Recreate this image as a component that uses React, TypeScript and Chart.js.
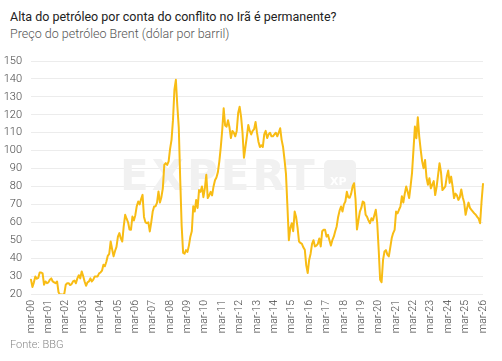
import React, { useEffect, useRef } from "react";
import { Chart, registerables } from "chart.js";

Chart.register(...registerables);

const TITLE = "Alta do petróleo por conta do conflito no Irã é permanente?";
const SUBTITLE = "Preço do petróleo Brent (dólar por barril)";
const SOURCE = "Fonte: BBG";

const MONTHS = ["jan", "fev", "mar", "abr", "mai", "jun", "jul", "ago", "set", "out", "nov", "dez"];
const FIRST_YEAR = 2000;
const FIRST_MONTH = 2; // março

// Brent, mensal (mar/2000 – mar/2026)
const y2000 = [28, 23.9, 26.5, 29.8, 28.5, 29, 32, 32, 31.5, 25.2];
const y2001 = [27, 26, 26.5, 28, 28.7, 27, 26.5, 26, 27, 21, 19.6, 19.8];
const y2002 = [19.6, 20.2, 25.2, 26, 26, 25, 25.5, 27, 27.5, 26, 28.7, 30.5];
const y2003 = [28.7, 32.6, 30, 27, 24.6, 26.5, 27, 28.7, 27, 28, 29.8, 29.8];
const y2004 = [29.8, 31.5, 32, 33, 36.3, 35.5, 38, 41.3, 42.4, 49.3, 45, 41];
const y2005 = [44, 46.3, 52, 54, 51, 49.3, 57.7, 64.2, 62, 60, 56, 55.8];
const y2006 = [63.2, 61, 64, 69, 71.6, 70, 73, 75.3, 63, 60, 59.5, 60];
const y2007 = [54.9, 60, 66, 68.8, 69, 71, 77.2, 71, 74, 79, 92, 93];
const y2008 = [92, 94, 101, 106, 117, 134, 139.5, 125, 113, 84, 58, 43];
const y2009 = [42.5, 44.5, 43.5, 47, 52, 55, 69, 66, 72.5, 68, 78, 77];
const y2010 = [80, 74, 79, 86.5, 73.5, 75, 77, 75, 80, 83.5, 85, 88];
const y2011 = [94, 102, 111.5, 123.6, 114, 113.4, 117, 113, 107, 111, 110, 108];
const y2012 = [111, 121, 124.5, 119, 110, 96, 102, 108, 114.3, 111, 109, 111];
const y2013 = [112, 116, 110, 105, 102, 103, 102, 109, 111, 107, 109, 110];
const y2014 = [108, 108, 109, 110, 108, 110, 112.5, 106, 102, 95, 87, 69];
const y2015 = [50, 57, 59.5, 55, 66, 63, 57, 49.3, 48.5, 48, 46, 44.7];
const y2016 = [36, 31.7, 39, 42.5, 48, 50, 46.5, 47, 48, 51, 46.5, 55];
const y2017 = [55.8, 55.8, 52, 53, 50, 47, 50, 52, 55, 57.7, 63, 66.5];
const y2018 = [68.8, 66, 70, 71.6, 77, 74, 73.7, 76, 80, 81.8, 73, 56];
const y2019 = [61, 66, 68, 71.6, 71, 64.2, 63, 61, 59.5, 62.3, 61, 64];
const y2020 = [67, 59.5, 44.7, 28, 26.6, 39, 43.7, 44.5, 42, 41, 46, 51.2];
const y2021 = [54, 55.8, 66, 65, 67, 68.8, 74.5, 71, 76, 80, 77, 73.5];
const y2022 = [80, 87.4, 100.4, 113.4, 106.9, 118.6, 107.8, 100.4, 94, 90.2, 94.8, 85];
const y2023 = [80.9, 84.6, 79, 81, 83, 75.2, 79.8, 86.5, 93, 88, 78, 79];
const y2024 = [80, 85.5, 88.9, 82, 85.5, 80, 73.5, 76, 75, 72.5, 74, 78.3];
const y2025 = [74, 71, 64.2, 68, 71, 68, 67, 66, 65, 64.2, 63, 62];
const y2026 = [59.5, 71.6, 81.4];

const brent = [
  ...y2000, ...y2001, ...y2002, ...y2003, ...y2004, ...y2005, ...y2006,
  ...y2007, ...y2008, ...y2009, ...y2010, ...y2011, ...y2012, ...y2013,
  ...y2014, ...y2015, ...y2016, ...y2017, ...y2018, ...y2019, ...y2020,
  ...y2021, ...y2022, ...y2023, ...y2024, ...y2025, ...y2026,
];

const categories = brent.map((_, i) => {
  const m = (FIRST_MONTH + i) % 12;
  const y = FIRST_YEAR + Math.floor((FIRST_MONTH + i) / 12);
  return `${MONTHS[m]}-${String(y % 100).padStart(2, "0")}`;
});

const Y_MIN = 20;
const Y_MAX = 150;
const Y_STEP = 10;

const LINE_COLOR = "#F8BC14";
const FONT = "Roboto, 'Open Sans', sans-serif";

const watermark = {
  id: "watermark",
  beforeDatasetsDraw(chart: any) {
    const ctx = chart.ctx;
    ctx.save();
    ctx.fillStyle = "#f1f1f1";
    ctx.font = "bold 42px 'DejaVu Sans', sans-serif";
    try { (ctx as any).letterSpacing = "3px"; } catch (e) {}
    ctx.textBaseline = "alphabetic";
    ctx.textAlign = "left";
    ctx.fillText("EXPERT", 120, 190);
    try { (ctx as any).letterSpacing = "0px"; } catch (e) {}
    const x = 324, y = 160, w = 32, h = 29, r = 5;
    ctx.beginPath();
    ctx.moveTo(x + r, y);
    ctx.arcTo(x + w, y, x + w, y + h, r);
    ctx.arcTo(x + w, y + h, x, y + h, r);
    ctx.arcTo(x, y + h, x, y, r);
    ctx.arcTo(x, y, x + w, y, r);
    ctx.closePath();
    ctx.fill();
    ctx.fillStyle = "#ffffff";
    ctx.font = "bold 11px 'DejaVu Sans', sans-serif";
    ctx.fillText("XP", x + 6, y + h - 4);
    ctx.restore();
  },
};

export default function App() {
  const ref = useRef<HTMLCanvasElement | null>(null);

  useEffect(() => {
    document.body.style.margin = "0";
    if (!ref.current) return;
    const chart = new Chart(ref.current, {
      type: "line",
      data: {
        labels: categories,
        datasets: [
          {
            data: brent,
            borderColor: LINE_COLOR,
            borderWidth: 2,
            borderJoinStyle: "round",
            borderCapStyle: "round",
            pointRadius: 0,
            tension: 0,
            fill: false,
          },
        ],
      },
      options: {
        animation: false,
        responsive: false,
        maintainAspectRatio: false,
        layout: { padding: { left: 3, right: 19, top: 61, bottom: 27 } },
        plugins: {
          legend: { display: false },
          tooltip: { enabled: false },
        },
        scales: {
          x: {
            type: "category",
            offset: false,
            grid: { display: false, drawTicks: false },
            border: { display: false },
            afterFit: (s: any) => { s.height = 40; s.paddingLeft = 0; s.paddingRight = 0; },
            ticks: {
              autoSkip: false,
              maxRotation: 90,
              minRotation: 90,
              padding: 6,
              color: "#444",
              font: { family: FONT, size: 10.5, weight: 300 },
              callback: (_v: any, i: number) =>
                categories[i].startsWith("mar-") ? categories[i] : "",
            },
          },
          y: {
            min: Y_MIN,
            max: Y_MAX,
            grid: { color: "#ececec", lineWidth: 1, drawTicks: false },
            border: { display: false },
            afterFit: (s: any) => { s.width = 28; s.paddingTop = 0; s.paddingBottom = 0; },
            ticks: {
              stepSize: Y_STEP,
              padding: 9,
              color: "#444",
              font: { family: FONT, size: 11, weight: 300 },
            },
          },
        },
      },
      plugins: [watermark],
    });
    return () => chart.destroy();
  }, []);

  return (
    <div style={{ position: "relative", width: 502, height: 361, background: "#fff", fontFamily: FONT }}>
      <div style={{ position: "absolute", left: 10, top: 9, fontSize: 12.5, color: "#222", whiteSpace: "nowrap" }}>
        {TITLE}
      </div>
      <div style={{ position: "absolute", left: 10, top: 26, fontSize: 12.5, fontWeight: 300, color: "#555", whiteSpace: "nowrap" }}>
        {SUBTITLE}
      </div>
      <canvas ref={ref} width={502} height={361} style={{ position: "absolute", left: 0, top: 0 }} />
      <div style={{ position: "absolute", left: 10, top: 338, fontSize: 11, fontWeight: 300, color: "#888", whiteSpace: "nowrap" }}>
        {SOURCE}
      </div>
    </div>
  );
}
